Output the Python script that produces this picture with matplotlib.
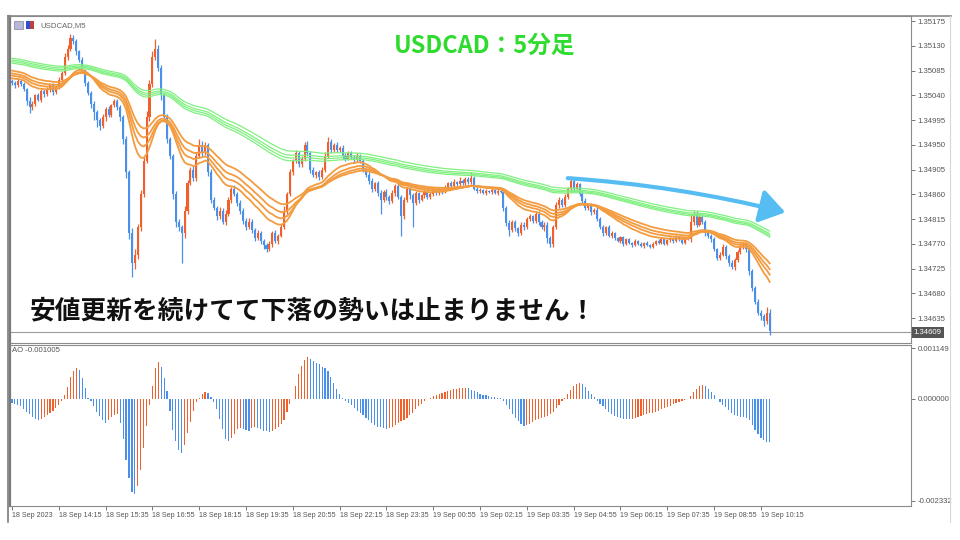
import matplotlib.pyplot as plt
import numpy as np
import pandas as pd
from matplotlib.patches import FancyArrowPatch, Rectangle
from matplotlib.lines import Line2D

# USDCAD M5, prices stored as points above 1.34000 (1 point = 0.00001)
base = 1.34
first_open = 1066
closes = [
    1063, 1058, 1066, 1060, 1052, 1030, 1018, 1025, 1040, 1032, 1048, 1042, 1050, 1058, 1046, 1055, 1068, 1080, 1110, 1125,
    1145, 1138, 1120, 1105, 1085, 1062, 1045, 1025, 1010, 995, 985, 1000, 1015, 1005, 1022, 1030, 1018, 1000, 960, 900,
    790, 735, 750, 800, 860, 920, 1000, 1060, 1110, 1125, 1090, 1040, 1000, 960, 930, 860, 810, 800, 790, 830,
    880, 905, 890, 930, 950, 935, 950, 900, 850, 835, 820, 830, 810, 825, 850, 870, 860, 845, 830, 812,
    800, 810, 795, 780, 790, 775, 768, 760, 770, 790, 775, 785, 800, 830, 860, 900, 920, 935, 915, 925,
    950, 935, 905, 895, 900, 892, 905, 930, 955, 940, 950, 940, 945, 930, 925, 935, 928, 922, 930, 920,
    905, 895, 885, 870, 880, 862, 850, 865, 855, 848, 862, 875, 855, 820, 850, 870, 858, 845, 862, 850,
    858, 865, 855, 860, 868, 862, 870, 865, 872, 880, 875, 882, 878, 885, 880, 888, 882, 890, 870, 866,
    868, 862, 866, 864, 868, 862, 866, 864, 835, 808, 795, 810, 798, 790, 805, 800, 815, 820, 812, 825,
    810, 800, 805, 780, 770, 800, 840, 850, 840, 855, 870, 885, 870, 878, 860, 848, 835, 840, 828, 832,
    815, 800, 790, 800, 785, 790, 780, 775, 782, 770, 778, 772, 768, 775, 770, 766, 772, 768, 765, 770,
    775, 772, 778, 770, 776, 780, 775, 783, 778, 772, 780, 778, 810, 825, 805, 818, 810, 790, 785, 778,
    760, 745, 750, 765, 748, 735, 728, 740, 755, 765, 770, 760, 720, 690, 665, 645, 638, 630, 645, 611,
]
wick_up = [
    4, 3, 5, 3, 4, 2, 6, 4, 3, 5, 3, 4, 5, 3, 4, 3, 5, 4, 6, 7,
    7, 5, 4, 3, 4, 3, 4, 3, 5, 3, 4, 6, 4, 5, 3, 4, 3, 4, 5, 6,
    5, 8, 10, 6, 8, 10, 12, 8, 10, 17, 6, 5, 4, 6, 5, 4, 6, 5, 4, 8,
    6, 5, 8, 6, 10, 6, 5, 4, 6, 5, 4, 6, 5, 6, 5, 4, 6, 5, 4, 5,
    4, 6, 5, 4, 5, 4, 3, 4, 5, 4, 5, 3, 6, 8, 5, 6, 5, 6, 4, 5,
    5, 6, 4, 5, 3, 4, 5, 6, 10, 5, 4, 5, 3, 4, 5, 4, 3, 4, 5, 4,
    4, 3, 5, 4, 3, 4, 5, 3, 4, 4, 5, 4, 6, 4, 5, 4, 3, 5, 4, 3,
    3, 4, 3, 4, 3, 4, 3, 4, 5, 3, 4, 5, 3, 6, 3, 4, 3, 10, 4, 3,
    3, 2, 3, 2, 3, 2, 3, 4, 3, 4, 5, 3, 4, 3, 4, 5, 3, 4, 3, 4,
    4, 3, 5, 4, 5, 4, 6, 5, 4, 5, 4, 8, 5, 4, 3, 4, 5, 3, 4, 3,
    4, 3, 4, 3, 4, 3, 2, 3, 2, 3, 2, 3, 2, 3, 2, 3, 2, 3, 2, 3,
    2, 3, 2, 3, 2, 3, 2, 3, 2, 3, 2, 3, 15, 5, 4, 5, 4, 3, 4, 3,
    4, 3, 5, 4, 3, 4, 5, 4, 3, 4, 4, 3, 5, 4, 3, 4, 5, 4, 10, 6,
]
wick_dn = [
    4, 5, 3, 4, 5, 8, 10, 4, 5, 3, 4, 5, 3, 4, 5, 3, 4, 3, 4, 5,
    4, 5, 6, 4, 5, 6, 4, 8, 15, 12, 8, 4, 6, 4, 5, 3, 5, 6, 8, 10,
    12, 25, 10, 8, 6, 5, 4, 6, 5, 6, 5, 8, 5, 6, 5, 8, 10, 6, 55, 10,
    5, 4, 6, 5, 4, 5, 4, 6, 5, 4, 6, 5, 4, 5, 4, 5, 4, 6, 5, 6,
    5, 4, 6, 5, 4, 6, 8, 5, 4, 5, 4, 5, 3, 4, 5, 4, 5, 4, 6, 5,
    4, 5, 6, 4, 5, 6, 4, 5, 4, 5, 4, 3, 4, 5, 4, 3, 4, 5, 4, 3,
    5, 4, 6, 5, 4, 5, 25, 4, 5, 6, 4, 5, 4, 35, 5, 4, 6, 45, 4, 5,
    3, 4, 3, 4, 3, 4, 3, 4, 3, 4, 3, 4, 3, 4, 3, 4, 3, 4, 3, 4,
    3, 2, 3, 2, 3, 2, 3, 2, 5, 6, 10, 4, 5, 6, 4, 5, 4, 3, 4, 5,
    5, 4, 6, 8, 6, 5, 4, 5, 4, 3, 4, 5, 4, 3, 4, 5, 4, 3, 5, 4,
    3, 4, 5, 4, 3, 4, 3, 2, 3, 4, 3, 2, 3, 2, 3, 2, 3, 2, 3, 2,
    3, 2, 3, 2, 3, 2, 3, 2, 3, 2, 3, 2, 4, 5, 4, 3, 4, 5, 4, 5,
    4, 5, 4, 3, 6, 5, 4, 5, 4, 3, 4, 5, 6, 5, 4, 5, 6, 10, 5, 7,
]
# Awesome Oscillator, same units (0.00001)
ao = [
    -10, -12, -14, -18, -24, -30, -36, -41, -46, -49, -47, -43, -38, -33, -28, -22, -14, -6,
    9, 26, 48, 62, 69, 64, 46, 23, 2,
    -5, -18, -30, -40, -48, -55, -50, -43, -38, -35,
    -55, -92, -140, -182, -212, -218, -200, -162, -113, -62,
    -15, 28, 70, 84, 72, 46, 18, -28, -72, -97,
    -117, -125, -107, -78, -54, -28, -9, 1, 10, 16,
    13, 3, -8, -23, -46, -70, -92, -97, -89, -81,
    -70, -67, -70, -72, -74, -67, -65, -67, -70, -74,
    -75, -76, -74, -70, -66, -59, -49, -31, -12, 0,
    29, 55, 75, 88, 94, 90, 85, 80, 78, 72, 70, 62, 50, 35, 22, 10, 2,
    -5, -10, -15, -22, -28, -33, -38, -44, -50, -56, -60, -64, -66, -68, -69, -68, -64, -60, -55, -52,
    -50, -45, -38, -32, -25, -18, -12, -6, -2,
    2, 5, 8, 11, 13, 15, 17, 19, 21, 22, 23, 24, 25, 23, 20, 17, 14, 11, 9, 7, 5, 4, 3, 2, 1,
    -5, -15, -25, -35, -44, -52, -58, -62, -60, -57, -54, -50, -46, -44, -42, -40, -36, -30, -22, -14, -6,
    2, 10, 20, 28, 33, 35, 32, 26, 18, 10, 3,
    -5, -12, -18, -24, -30, -35, -39, -42, -44, -46, -47, -47, -46, -44, -42, -40, -38, -36, -34, -32,
    -30, -28, -25, -22, -19, -16, -13, -10, -8, -5, -3, -1,
    5, 14, 22, 28, 31, 28, 22, 15, 7, 0,
    -8, -14, -20, -27, -33, -38, -40, -41, -42, -44, -50, -60, -72, -82, -90, -95, -98, -100,
]

tick_bars = [0, 16, 32, 48, 64, 80, 96, 112, 128, 144, 160, 176, 192, 208, 224, 240, 256]
time_labels = ['18 Sep 2023', '18 Sep 14:15', '18 Sep 15:35', '18 Sep 16:55', '18 Sep 18:15',
               '18 Sep 19:35', '18 Sep 20:55', '18 Sep 22:15', '18 Sep 23:35', '19 Sep 00:55',
               '19 Sep 02:15', '19 Sep 03:35', '19 Sep 04:55', '19 Sep 06:15', '19 Sep 07:35',
               '19 Sep 08:55', '19 Sep 10:15']
price_ticks = [1.35175, 1.35130, 1.35085, 1.35040, 1.34995, 1.34950, 1.34905,
               1.34860, 1.34815, 1.34770, 1.34725, 1.34680, 1.34635]
ao_ticks = [0.001149, 0.0, -0.002332]
ao_tick_labels = ['0.001149', '0.000000', '-0.002332']
last_price = 1.34609

fast_spans = [20, 26, 32, 40]
fast_seeds = [1072, 1077, 1081, 1086]
slow_spans = [100, 105, 110, 118]
slow_seeds = [1099, 1102, 1105, 1108]

UP = '#F0602D'
DN = '#4A8FEA'
ORANGE = '#F39B3F'
GREEN = '#80F080'
JP = ['Noto Sans CJK JP', 'DejaVu Sans']
SMALL = ['Liberation Sans', 'DejaVu Sans']

W, H = 960, 540
fig = plt.figure(figsize=(9.6, 5.4), dpi=100)


def fr(x0, y0, x1, y1):
    return [x0 / W, 1 - y1 / H, (x1 - x0) / W, (y1 - y0) / H]


def px(x, y):
    return (x / W, 1 - y / H)


ax = fig.add_axes(fr(10, 16, 911, 343))
ax2 = fig.add_axes(fr(10, 345, 911, 506))

n = len(closes)
xs = np.arange(n)
c = np.array(closes, dtype=float)
o = np.array([first_open] + closes[:-1], dtype=float)
hi = np.maximum(o, c) + np.array(wick_up)
lo = np.minimum(o, c) - np.array(wick_dn)
col = np.where(c >= o, UP, DN)


def to_price(v):
    return base + np.asarray(v) / 1e5


ax.vlines(xs, to_price(lo), to_price(hi), colors=col, lw=0.9, zorder=2)
ax.bar(xs, np.maximum(np.abs(c - o), 1.0) / 1e5, bottom=to_price(np.minimum(o, c)),
       width=0.7, color=col, linewidth=0, zorder=2)

cp = pd.Series(to_price(c))
for span, seed in zip(slow_spans, slow_seeds):
    s = pd.concat([pd.Series([to_price(seed)]), cp], ignore_index=True)
    ema = s.ewm(span=span, adjust=False).mean().iloc[1:].values
    ax.plot(xs, ema, color=GREEN, lw=0.9, zorder=3)
for span, seed in zip(fast_spans, fast_seeds):
    s = pd.concat([pd.Series([to_price(seed)]), cp], ignore_index=True)
    ema = s.ewm(span=span, adjust=False).mean().iloc[1:].values
    ax.plot(xs, ema, color=ORANGE, lw=1.3, zorder=4)

ax.axhline(last_price, color='#9a9a9a', lw=0.8, zorder=1)

xlim = (-0.68, 307.3)
ax.set_xlim(xlim)
ax.set_ylim(1.345896, 1.351841)
ax.set_xticks([])
ax.yaxis.tick_right()
ax.set_yticks(price_ticks)
ax.set_yticklabels([f'{p:.5f}' for p in price_ticks], family=SMALL)
ax.tick_params(axis='y', direction='out', length=3, width=0.6, color='#606060',
               labelsize=5.6, labelcolor='#555555', pad=1.5)
ax.text(1.003, last_price, f'{last_price:.5f}', transform=ax.get_yaxis_transform(),
        fontsize=5.6, family=SMALL, color='white', va='center', ha='left',
        bbox=dict(boxstyle='square,pad=0.25', fc='#555555', ec='none'))

# AO histogram
ao_v = np.array(ao) / 1e5
rising = np.r_[False, ao_v[1:] > ao_v[:-1]]
ax2.bar(xs, ao_v, width=0.4, color=np.where(rising, UP, DN), linewidth=0)
ax2.set_xlim(xlim)
ax2.set_ylim(-0.00245, 0.00122)
ax2.yaxis.tick_right()
ax2.set_yticks(ao_ticks)
ax2.set_yticklabels(ao_tick_labels, family=SMALL)
ax2.tick_params(axis='y', direction='out', length=3, width=0.6, color='#606060',
                labelsize=5.6, labelcolor='#555555', pad=1.5)
ax2.set_xticks(tick_bars)
ax2.set_xticklabels(time_labels, family=SMALL)
ax2.tick_params(axis='x', direction='out', length=3, width=0.6, color='#606060',
                labelsize=5.1, labelcolor='#555555', pad=1.5)
for lab in ax2.get_xticklabels():
    lab.set_ha('left')

for a in (ax, ax2):
    for side in ('top', 'bottom', 'right'):
        a.spines[side].set_color('#8a8a8a')
        a.spines[side].set_linewidth(0.8)
    a.spines['left'].set_color('#7a7a7a')
    a.spines['left'].set_linewidth(1.6)

# chart frame
fig.add_artist(Line2D([px(8, 0)[0], px(951, 0)[0]], [px(0, 16)[1]] * 2, color='#8a8a8a', lw=1.2))
fig.add_artist(Line2D([px(950, 0)[0]] * 2, [px(0, 16)[1], px(0, 522)[1]], color='#d8d8d8', lw=0.8))
fig.add_artist(Line2D([px(8, 0)[0]] * 2, [px(0, 16)[1], px(0, 522)[1]], color='#7a7a7a', lw=1.2))

# header labels
fig.add_artist(Rectangle(px(14, 29), 9 / W, 8 / H, fc='#b8b8d8', ec='#8080a0', lw=0.5))
fig.add_artist(Rectangle(px(26, 29), 4 / W, 8 / H, fc='#3050d0', ec='none'))
fig.add_artist(Rectangle(px(30, 29), 4 / W, 8 / H, fc='#c04040', ec='none'))
fig.text(40 / W, 1 - 26 / H, 'USDCAD,M5', fontsize=5.6, family=SMALL, color='#666666', va='center')
fig.text(12 / W, 1 - 351 / H, 'AO -0.001005', fontsize=5.6, family=SMALL, color='#555555', va='center')

fig.text(485 / W, 1 - 46 / H, 'USDCAD：5分足', family=JP, fontsize=17, weight='bold',
         color='#2EDB2E', ha='center', va='center')
fig.text(30 / W, 1 - 311 / H, '安値更新を続けてて下落の勢いは止まりません！', family=JP,
         fontsize=18.5, weight='bold', color='#111111', ha='left', va='center')

arrow = FancyArrowPatch(px(565, 178), px(788, 213), transform=fig.transFigure,
                        connectionstyle='arc3,rad=-0.045', arrowstyle='-|>,head_length=0.9,head_width=0.6',
                        mutation_scale=17, color='#55BDF2', lw=3.0)
fig.add_artist(arrow)

fig.savefig('out.png', dpi=100, facecolor='white')
